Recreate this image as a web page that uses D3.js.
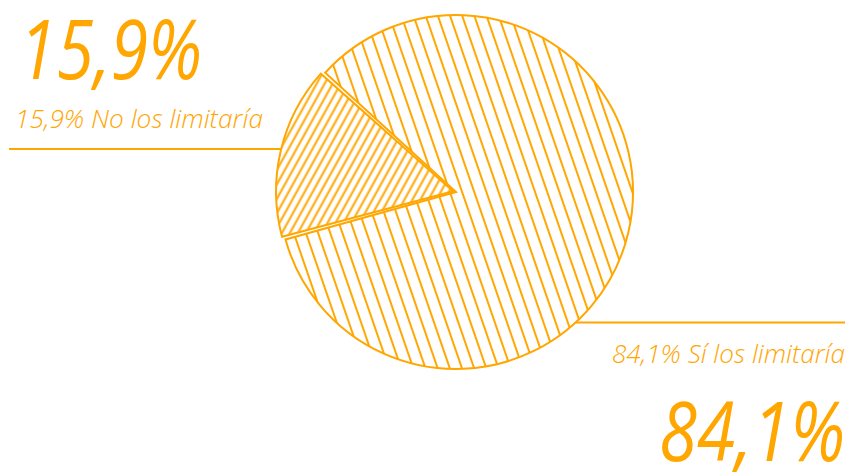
<!DOCTYPE html>
<html>
<head>
<meta charset="utf-8">
<script src="https://cdn.jsdelivr.net/npm/d3@7"></script>
<style>
  html, body { margin: 0; padding: 0; background: #fff; }
  svg { display: block; }
</style>
</head>
<body>
<svg id="chart" width="850" height="472"></svg>
<script>
// ---- data ----
const categories = ["Sí los limitaría", "No los limitaría"];
const values = [84.1, 15.9];
const bigLabels = ["84,1%", "15,9%"];

const color = "#FFA600";
const svg = d3.select("#chart");
const cx = 456, cy = 192, R = 177;

const locale = d3.formatLocale({decimal: ",", thousands: ".", grouping: [3], currency: ["", "€"]});
const pct = locale.format(".1f");

// patterns
const defs = svg.append("defs");
function hatch(id, spacing, angle, width) {
  const p = defs.append("pattern")
    .attr("id", id)
    .attr("patternUnits", "userSpaceOnUse")
    .attr("width", spacing).attr("height", spacing)
    .attr("patternTransform", `rotate(${angle})`);
  p.append("rect").attr("width", spacing).attr("height", spacing).attr("fill", "#fff");
  p.append("line")
    .attr("x1", spacing / 2).attr("y1", -1)
    .attr("x2", spacing / 2).attr("y2", spacing + 1)
    .attr("stroke", color).attr("stroke-width", width);
}
hatch("hatchBig", 11.5, -19, 2);
hatch("hatchSmall", 7, 29, 2);

const startA = -48 * Math.PI / 180;
const pie = d3.pie().sort(null).startAngle(startA).endAngle(startA + 2 * Math.PI);
const arcs = pie(values);
const arc = d3.arc().innerRadius(0).outerRadius(R).padAngle(0.012);

const explode = [0, 3];
const g = svg.append("g").attr("transform", `translate(${cx},${cy})`);
g.selectAll("path.slice")
  .data(arcs)
  .join("path")
  .attr("class", "slice")
  .attr("d", arc)
  .attr("transform", (d, i) => {
    const m = (d.startAngle + d.endAngle) / 2;
    return `translate(${Math.sin(m) * explode[i]},${-Math.cos(m) * explode[i]})`;
  })
  .attr("fill", (d, i) => i === 0 ? "url(#hatchBig)" : "url(#hatchSmall)")
  .attr("stroke", color)
  .attr("stroke-width", 2)
  .attr("stroke-linejoin", "miter");

// leader lines (end on the circle)
function xOnCircle(y, side) {
  const dy = y - cy;
  return cx + side * Math.sqrt(R * R - dy * dy);
}
svg.append("line")
  .attr("x1", 9).attr("y1", 149)
  .attr("x2", xOnCircle(149, -1) - 3).attr("y2", 149)
  .attr("stroke", color).attr("stroke-width", 2);
svg.append("line")
  .attr("x1", xOnCircle(322.5, 1)).attr("y1", 322.5)
  .attr("x2", 845).attr("y2", 322.5)
  .attr("stroke", color).attr("stroke-width", 2);

// texts
const font = "'Open Sans', 'Noto Sans', sans-serif";
svg.append("text")
  .attr("x", 19).attr("y", 79)
  .attr("font-family", font).attr("font-style", "italic").attr("font-weight", 400)
  .attr("font-size", 82)
  .attr("textLength", 183).attr("lengthAdjust", "spacingAndGlyphs")
  .attr("fill", color)
  .text(bigLabels[1]);
svg.append("text")
  .attr("x", 15).attr("y", 128)
  .attr("font-family", font).attr("font-style", "italic").attr("font-weight", 300)
  .attr("font-size", 25)
  .attr("textLength", 248).attr("lengthAdjust", "spacingAndGlyphs")
  .attr("fill", color)
  .text(pct(values[1]) + "% " + categories[1]);
svg.append("text")
  .attr("x", 845).attr("y", 363)
  .attr("text-anchor", "end")
  .attr("font-family", font).attr("font-style", "italic").attr("font-weight", 300)
  .attr("font-size", 25)
  .attr("textLength", 233).attr("lengthAdjust", "spacingAndGlyphs")
  .attr("fill", color)
  .text(pct(values[0]) + "% " + categories[0]);
svg.append("text")
  .attr("x", 845).attr("y", 461)
  .attr("text-anchor", "end")
  .attr("font-family", font).attr("font-style", "italic").attr("font-weight", 400)
  .attr("font-size", 82)
  .attr("textLength", 186).attr("lengthAdjust", "spacingAndGlyphs")
  .attr("fill", color)
  .text(bigLabels[0]);
</script>
</body>
</html>
